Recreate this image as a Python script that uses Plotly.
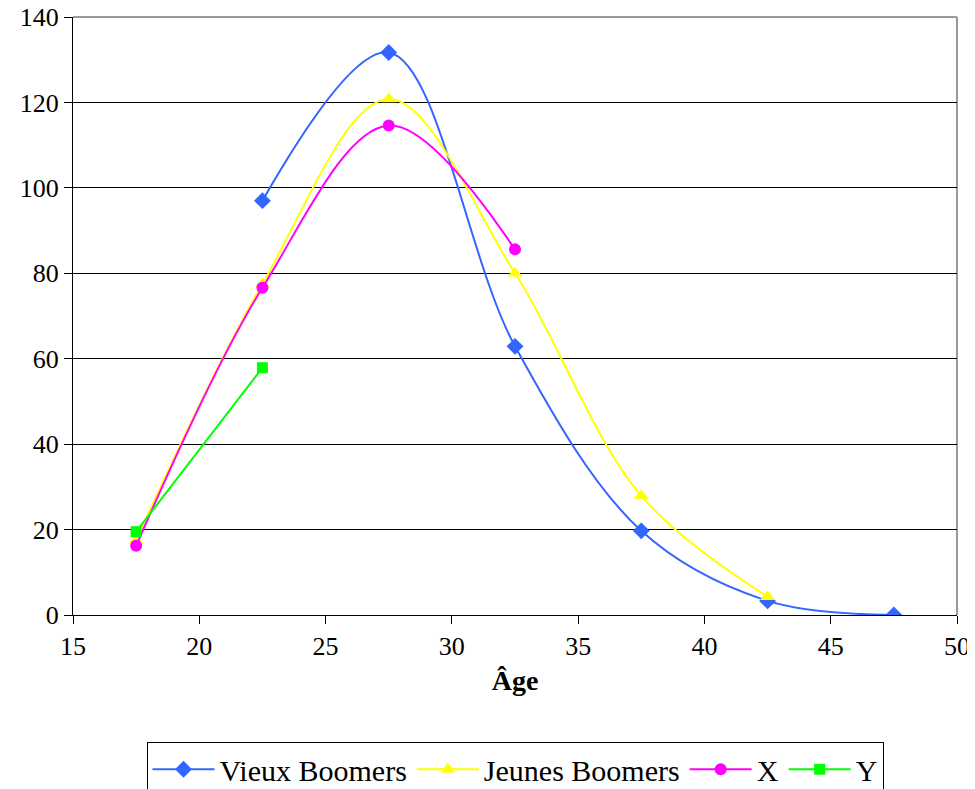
import plotly.graph_objects as go

ages_vb = [22.5, 27.5, 32.5, 37.5, 42.5, 47.5]
vieux_boomers = [97, 131.7, 62.9, 19.7, 3.3, 0]
ages_jb = [17.5, 22.5, 27.5, 32.5, 37.5, 42.5]
jeunes_boomers = [17.5, 77.5, 120.8, 80, 27.9, 4.3]
ages_x = [17.5, 22.5, 27.5, 32.5]
gen_x = [16.2, 76.6, 114.6, 85.6]
ages_y = [17.5, 22.5]
gen_y = [19.5, 57.9]

FONT = "Liberation Serif"

fig = go.Figure()
fig.add_trace(go.Scatter(x=ages_vb, y=vieux_boomers, name="Vieux Boomers",
                         mode="lines+markers", line=dict(color="#3366FF", width=2, shape="spline", smoothing=1),
                         marker=dict(symbol="diamond", size=13, color="#3366FF")))
fig.add_trace(go.Scatter(x=ages_jb, y=jeunes_boomers, name="Jeunes Boomers",
                         mode="lines+markers", line=dict(color="#FFFF00", width=2, shape="spline", smoothing=1),
                         marker=dict(symbol="triangle-up", size=13, color="#FFFF00")))
fig.add_trace(go.Scatter(x=ages_x, y=gen_x, name="X",
                         mode="lines+markers", line=dict(color="#FF00FF", width=2, shape="spline", smoothing=1),
                         marker=dict(symbol="circle", size=12, color="#FF00FF")))
fig.add_trace(go.Scatter(x=ages_y, y=gen_y, name="Y",
                         mode="lines+markers", line=dict(color="#00FF00", width=2),
                         marker=dict(symbol="square", size=11, color="#00FF00")))

fig.update_layout(
    width=975, height=789,
    margin=dict(l=65, r=26, t=9, b=182, autoexpand=False),
    paper_bgcolor="white", plot_bgcolor="white",
    font=dict(family=FONT, size=26, color="black"),
    showlegend=True,
    legend=dict(orientation="h", x=0.5, xanchor="center", y=-0.2127, yanchor="top",
                bordercolor="black", borderwidth=1, font=dict(size=30, family=FONT, color="black"),
                itemwidth=62, tracegroupgap=0),
    xaxis=dict(range=[15, 50], tick0=15, dtick=5, ticks="outside", ticklen=8,
               tickcolor="black", showline=True, linecolor="black", linewidth=1,
               mirror=False, showgrid=False, zeroline=False, automargin=False,
               ticklabeloverflow="allow",
               tickfont=dict(size=26, family=FONT, color="black"),
               title=dict(text="<b>Âge</b>", font=dict(size=28, family=FONT, color="black"), standoff=10)),
    yaxis=dict(range=[0, 140], tick0=0, dtick=20, ticks="outside", ticklen=8,
               tickcolor="black", showline=True, linecolor="black", linewidth=1,
               showgrid=True, gridcolor="black", gridwidth=1, zeroline=False, automargin=False,
               ticklabeloverflow="allow",
               tickfont=dict(size=26, family=FONT, color="black")),
)
fig.add_shape(type="line", xref="paper", yref="paper", x0=1, x1=1, y0=0, y1=1,
              line=dict(color="#9a9a9a", width=2), layer="below")
fig.add_shape(type="line", xref="paper", yref="paper", x0=0, x1=1, y0=1, y1=1,
              line=dict(color="#9a9a9a", width=2), layer="above")

fig.write_html("out.html")
